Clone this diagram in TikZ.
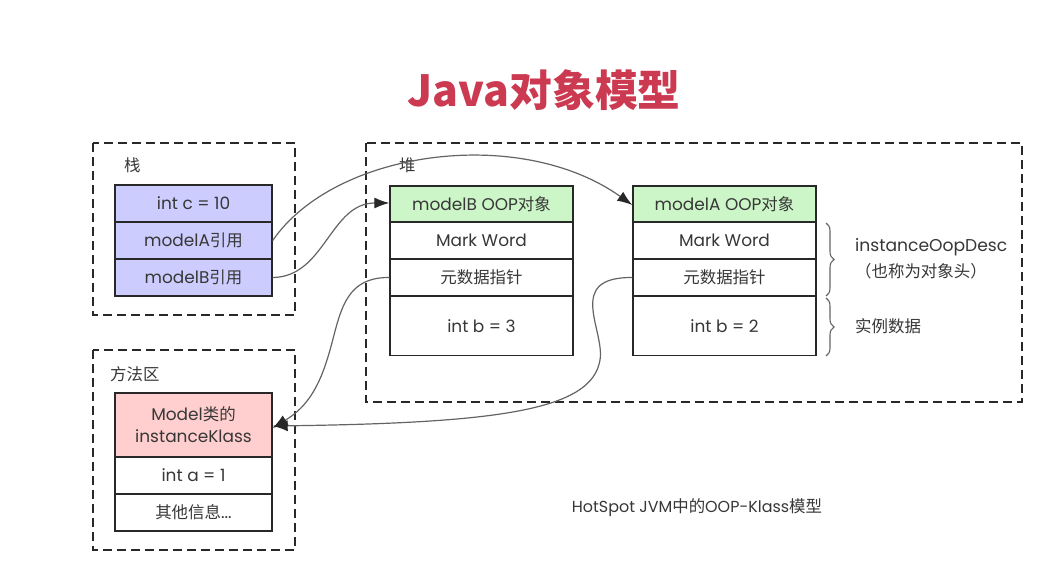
\documentclass[tikz,border=0pt]{standalone}
\usepackage{fontspec}
\setmainfont{Poppins}
\newfontfamily\cjk{Noto Sans CJK SC}
\usetikzlibrary{arrows.meta,decorations.pathreplacing}
\definecolor{linec}{RGB}{40,40,40}
\definecolor{textc}{RGB}{55,55,55}
\definecolor{stackc}{RGB}{204,204,255}
\definecolor{greenc}{RGB}{204,245,200}
\definecolor{pinkc}{RGB}{255,206,206}
\definecolor{titlec}{RGB}{204,58,82}
\definecolor{curvec}{RGB}{100,100,100}
\newcommand{\cj}[1]{{\cjk\fontsize{16.5}{19}\selectfont #1}}
\tikzset{
  region/.style={draw=linec, line width=1.6bp, dash pattern=on 9bp off 5bp},
  rowbox/.style={draw=linec, line width=1.4bp, inner sep=0pt, text=textc, font=\fontsize{17}{20}\selectfont, align=center},
  srow/.style={rowbox, minimum width=157bp, minimum height=37bp},
  hrow/.style={rowbox, minimum width=183bp, minimum height=37bp},
  lbl/.style={text=textc, font=\fontsize{17}{20}\selectfont, inner sep=0pt},
  link/.style={draw=curvec, line width=1.2bp, -{Latex[length=15bp,width=11bp,color=linec]}},
  brc/.style={draw=curvec, line width=1.1bp, decorate, decoration={brace, amplitude=8bp}}
}
\begin{document}
\begin{tikzpicture}[x=1bp,y=-1bp]
\useasboundingbox[fill=white] (0,0) rectangle (1059,577);
% title
\node[text=titlec, font=\cjk\fontsize{43}{50}\selectfont\bfseries] (title) at (544,90) {Java对象模型};
% regions
\draw[region] (93,143) rectangle (295,315);
\node[lbl, anchor=west] (stk) at (124,165) {\cj{栈}};
\draw[region] (366,143) rectangle (1022,402);
\node[lbl, anchor=west] (heap) at (399,165) {\cj{堆}};
\draw[region] (93,350) rectangle (295,550);
\node[lbl, anchor=west] (meth) at (110,374) {\cj{方法区}};
% stack
\node[srow, fill=stackc] (s1) at (193.5,203.5) {int c = 10};
\node[srow, fill=stackc] (s2) at (193.5,240.5) {modelA\cj{引用}};
\node[srow, fill=stackc] (s3) at (193.5,277.5) {modelB\cj{引用}};
% modelB
\node[hrow, fill=greenc, minimum height=36bp] (b1) at (481.5,204) {modelB OOP\cj{对象}};
\node[hrow] (b2) at (481.5,240.5) {Mark Word};
\node[hrow] (b3) at (481.5,277.5) {\cj{元数据指针}};
\node[hrow, minimum height=59bp] (b4) at (481.5,326) {int b = 3};
% modelA
\node[hrow, fill=greenc, minimum height=36bp] (a1) at (724.5,204) {modelA OOP\cj{对象}};
\node[hrow] (a2) at (724.5,240.5) {Mark Word};
\node[hrow] (a3) at (724.5,277.5) {\cj{元数据指针}};
\node[hrow, minimum height=59bp] (a4) at (724.5,326) {int b = 2};
% klass
\node[srow, fill=pinkc, minimum height=64bp, font=\fontsize{17}{22}\selectfont] (k1) at (193.5,425) {Model\cj{类的}\\instanceKlass};
\node[srow] (k2) at (193.5,475.5) {int a = 1};
\node[srow] (k3) at (193.5,512.5) {\cj{其他信息}...};
% braces
\coordinate (br1t) at (826,223);
\coordinate (br1b) at (826,296);
\coordinate (br2t) at (826,298);
\coordinate (br2b) at (826,356);
\draw[brc] (br1t) -- (br1b);
\draw[brc] (br2t) -- (br2b);
\node[lbl, anchor=west, font=\fontsize{17.2}{20}\selectfont] (iod) at (855,247) {instanceOopDesc};
\node[lbl, anchor=west] (iodz) at (855,271) {\cj{（也称为对象头）}};
\node[lbl, anchor=west] (inst) at (855,326) {\cj{实例数据}};
% caption
\node[lbl, font=\fontsize{16}{19}\selectfont] (cap) at (697,508) {HotSpot JVM\cj{中的}OOP-Klass\cj{模型}};
% links
\draw[link] (s2.east) .. controls (335,150) and (520,125) .. ([yshift=-1bp]a1.west);
\draw[link] (s3.east) .. controls (325,277) and (330,203) .. ([yshift=1bp]b1.west);
\draw[link] (b3.west) .. controls (340,277) and (340,320) .. (327,360) .. controls (316,395) and (302,410) .. ([yshift=-3bp]k1.east);
\draw[link] (a3.west) .. controls (565,277) and (605,330) .. (600,360) .. controls (592,410) and (500,423) .. ([yshift=-1bp]k1.east);
\end{tikzpicture}
\end{document}
